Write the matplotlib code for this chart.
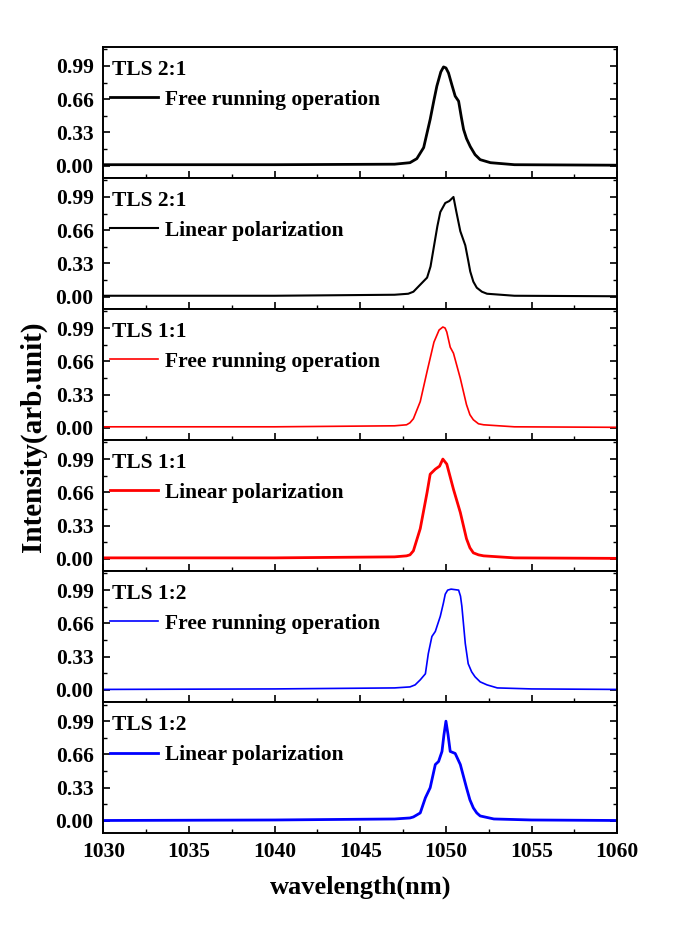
import matplotlib.pyplot as plt
from matplotlib.ticker import MultipleLocator
import numpy as np

plt.rcParams['font.family'] = ['Liberation Serif', 'DejaVu Serif']
plt.rcParams['font.weight'] = 'bold'

# spectra: wavelength (nm), normalised intensity
wl_21_free = [1030, 1040, 1047.0, 1047.9, 1048.3, 1048.7, 1049.08, 1049.3, 1049.47, 1049.7,
              1049.86, 1050.0, 1050.15, 1050.35, 1050.54, 1050.74, 1050.9, 1051.03, 1051.2,
              1051.42, 1051.7, 1052.0, 1052.6, 1054, 1060]
int_21_free = [0.01, 0.01, 0.015, 0.03, 0.07, 0.18, 0.46, 0.65, 0.79, 0.93,
               0.98, 0.97, 0.92, 0.80, 0.69, 0.64, 0.48, 0.36, 0.27,
               0.19, 0.11, 0.06, 0.03, 0.01, 0.005]

wl_21_lin = [1030, 1040, 1047.0, 1047.8, 1048.1, 1048.5, 1048.9, 1049.1, 1049.28, 1049.5,
             1049.67, 1049.96, 1050.2, 1050.44, 1050.6, 1050.84, 1051.13, 1051.3, 1051.42,
             1051.6, 1051.8, 1052.1, 1052.4, 1054, 1060]
int_21_lin = [0.01, 0.01, 0.02, 0.03, 0.05, 0.12, 0.19, 0.30, 0.48, 0.70,
              0.84, 0.93, 0.95, 0.99, 0.85, 0.65, 0.51, 0.36, 0.25,
              0.15, 0.09, 0.05, 0.03, 0.01, 0.005]

wl_11_free = [1030, 1040, 1047.0, 1047.7, 1047.9, 1048.1, 1048.5, 1048.9, 1049.3, 1049.6,
              1049.82, 1049.95, 1050.05, 1050.25, 1050.44, 1050.84, 1051.2, 1051.4, 1051.6,
              1051.9, 1052.2, 1054, 1060]
int_11_free = [0.01, 0.01, 0.02, 0.03, 0.05, 0.09, 0.26, 0.56, 0.85, 0.97,
               1.0, 0.99, 0.95, 0.80, 0.74, 0.49, 0.23, 0.13, 0.08,
               0.04, 0.03, 0.01, 0.005]

wl_11_lin = [1030, 1040, 1047.0, 1047.7, 1047.9, 1048.1, 1048.5, 1048.9, 1049.08, 1049.38,
             1049.63, 1049.82, 1050.05, 1050.44, 1050.84, 1051.2, 1051.4, 1051.6, 1051.9,
             1052.2, 1054, 1060]
int_11_lin = [0.01, 0.01, 0.02, 0.03, 0.04, 0.08, 0.30, 0.66, 0.84, 0.89,
              0.92, 0.99, 0.94, 0.69, 0.46, 0.20, 0.11, 0.06, 0.04,
              0.03, 0.01, 0.005]

wl_12_free = [1030, 1040, 1047.0, 1047.9, 1048.2, 1048.5, 1048.8, 1048.97, 1049.18, 1049.38,
              1049.67, 1049.85, 1049.96, 1050.1, 1050.3, 1050.74, 1050.85, 1050.93, 1051.13,
              1051.3, 1051.5, 1051.7, 1052.0, 1052.4, 1053.0, 1055, 1060]
int_12_free = [0.005, 0.01, 0.02, 0.03, 0.05, 0.10, 0.16, 0.36, 0.53, 0.58,
               0.73, 0.86, 0.95, 0.99, 1.0, 0.99, 0.93, 0.83, 0.46,
               0.26, 0.18, 0.13, 0.08, 0.05, 0.02, 0.01, 0.005]

wl_12_lin = [1030, 1040, 1047.0, 1047.9, 1048.1, 1048.5, 1048.8, 1049.08, 1049.38, 1049.57,
             1049.77, 1049.88, 1050.0, 1050.12, 1050.25, 1050.54, 1050.84, 1051.2, 1051.4,
             1051.6, 1051.8, 1052.0, 1052.8, 1055, 1060]
int_12_lin = [0.005, 0.01, 0.02, 0.03, 0.04, 0.08, 0.23, 0.33, 0.56, 0.59,
              0.69, 0.85, 0.99, 0.86, 0.69, 0.67, 0.56, 0.33, 0.21,
              0.13, 0.08, 0.05, 0.02, 0.01, 0.005]

titles = ['TLS 2:1', 'TLS 2:1', 'TLS 1:1', 'TLS 1:1', 'TLS 1:2', 'TLS 1:2']
labels = ['Free running operation', 'Linear polarization'] * 3
colors = ['black', 'black', 'red', 'red', 'blue', 'blue']
widths = [2.0, 1.5, 1.2, 2.0, 1.2, 2.0]
series = [(wl_21_free, int_21_free), (wl_21_lin, int_21_lin),
          (wl_11_free, int_11_free), (wl_11_lin, int_11_lin),
          (wl_12_free, int_12_free), (wl_12_lin, int_12_lin)]
yticks = [0.00, 0.33, 0.66, 0.99]
xticks = [1030, 1035, 1040, 1045, 1050, 1055, 1060]

fig, axes = plt.subplots(6, 1, figsize=(6.85, 9.35), dpi=100, sharex=True)
fig.subplots_adjust(left=0.151, right=0.901, top=0.95, bottom=0.109, hspace=0)

for i, ax in enumerate(axes):
    x, y = series[i]
    ax.plot(x, y, color=colors[i], lw=widths[i], label=labels[i])
    ax.set_xlim(1030, 1060)
    ax.set_ylim(-0.12, 1.18)
    ax.set_yticks(yticks)
    ax.set_yticklabels(['%.2f' % v for v in yticks])
    ax.yaxis.set_minor_locator(MultipleLocator(0.165))
    ax.xaxis.set_minor_locator(MultipleLocator(2.5))
    ax.tick_params(which='both', direction='in', right=True, top=False, labelsize=15.5)
    ax.tick_params(axis='y', pad=7)
    ax.tick_params(which='major', length=5, width=1.2)
    ax.tick_params(which='minor', length=3, width=1.0)
    for s in ax.spines.values():
        s.set_linewidth(1.4)
    ax.text(0.016, 0.90, titles[i], transform=ax.transAxes, fontsize=15.5,
            fontweight='bold', va='top', ha='left')
    ax.legend(loc='upper left', bbox_to_anchor=(-0.024, 0.82), frameon=False,
              handlelength=2.2, handletextpad=0.33,
              prop={'weight': 'bold', 'size': 15.5})

axes[-1].set_xticks(xticks)
axes[-1].set_xlabel('wavelength(nm)', fontsize=19, fontweight='bold', labelpad=10)
fig.text(0.048, 0.533, 'Intensity(arb.unit)', rotation=90, fontsize=21,
         fontweight='bold', ha='center', va='center')
for lab in axes[-1].get_xticklabels():
    lab.set_y(-0.03)

fig.savefig('out.png', dpi=100)
